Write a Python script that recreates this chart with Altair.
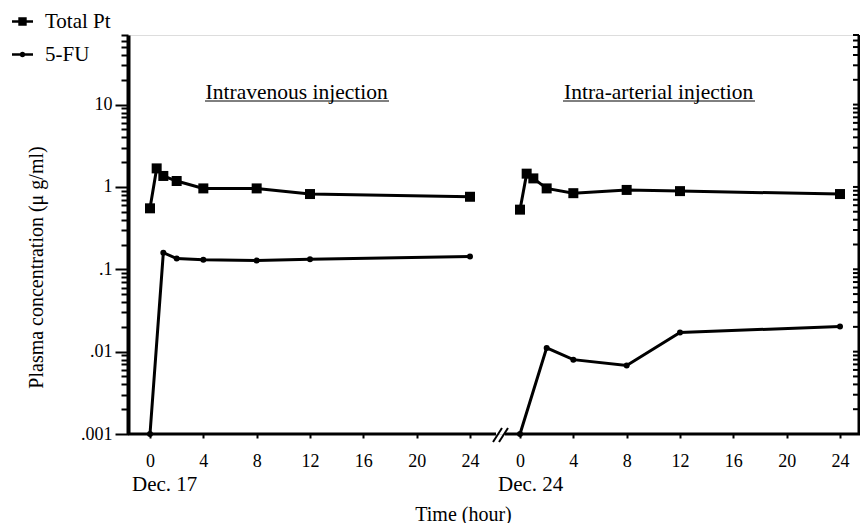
import altair as alt
import pandas as pd

# ---------------- data ----------------
iv_pt_t = [0, 0.5, 1, 2, 4, 8, 12, 24]
iv_pt_v = [0.55, 1.68, 1.36, 1.18, 0.96, 0.96, 0.82, 0.76]
iv_fu_t = [0, 1, 2, 4, 8, 12, 24]
iv_fu_v = [0.001, 0.159, 0.135, 0.131, 0.128, 0.132, 0.143]
ia_pt_t = [0, 0.5, 1, 2, 4, 8, 12, 24]
ia_pt_v = [0.53, 1.45, 1.27, 0.96, 0.84, 0.92, 0.89, 0.82]
ia_fu_t = [0, 2, 4, 8, 12, 24]
ia_fu_v = [0.001, 0.0111, 0.0080, 0.0068, 0.0171, 0.0202]

series_names = ["Total Pt", "5-FU"]
panel_titles = ["Intravenous injection", "Intra-arterial injection"]
day_labels = ["Dec. 17", "Dec. 24"]
x_tick_hours = [0, 4, 8, 12, 16, 20, 24]
GAP = 27.75  # offset of the second (broken-axis) panel, in hours

rows = []
for route, off, sets in [
    ("IV", 0.0, [("Total Pt", iv_pt_t, iv_pt_v), ("5-FU", iv_fu_t, iv_fu_v)]),
    ("IA", GAP, [("Total Pt", ia_pt_t, ia_pt_v), ("5-FU", ia_fu_t, ia_fu_v)]),
]:
    for s, ts, vs in sets:
        for t, v in zip(ts, vs):
            rows.append({"t": t, "x": t + off, "v": v, "series": s,
                         "key": route + "-" + s})
df = pd.DataFrame(rows)

x_ticks = x_tick_hours + [h + GAP for h in x_tick_hours]
y_ticks = []
for d in range(-3, 2):
    for k in range(1, 10):
        val = round(k * 10.0 ** d, 6)
        if val <= 70:
            y_ticks.append(val)

FONT = "Liberation Serif"
DECADE = "abs(log(datum.value)/LN10 - round(log(datum.value)/LN10)) < 0.0001"
W, H = 731, 399

xscale = alt.Scale(domain=[-1.65, 53.175], nice=False, zero=False)
yscale = alt.Scale(type="log", domain=[0.001, 70], nice=False)

x_enc = alt.X("x:Q", scale=xscale, axis=alt.Axis(
    values=x_ticks,
    labelExpr=f"datum.value > 26 ? format(datum.value - {GAP}, 'd') : format(datum.value, 'd')",
    domain=False, tickSize=4, tickWidth=2, tickColor="black",
    labelFont=FONT, labelFontSize=18, labelColor="black", labelPadding=14,
    labelOverlap=False, labelFlush=False, grid=False,
    title="Time (hour)", titleFont=FONT, titleFontSize=20, titleFontWeight="normal",
    titleColor="black", titleX=335, titleY=80, titleBaseline="middle"))

y_enc = alt.Y("v:Q", scale=yscale, axis=alt.Axis(
    values=y_ticks,
    labelExpr=f"{DECADE} ? replace(format(datum.value, '~g'), '0.', '.') : ''",
    tickSize={"condition": {"test": DECADE, "value": 13}, "value": 7},
    tickWidth=2, tickColor="black", domainWidth=4, domainColor="black",
    labelFont=FONT, labelFontSize=18, labelColor="black", labelPadding=3,
    labelOverlap=False, labelFlush=False, grid=False,
    title="Plasma concentration (\u03bc g/ml)", titleFont=FONT, titleFontSize=20,
    titleFontWeight="normal", titleColor="black", titleX=-92, titleY=232,
    titleBaseline="middle"))

x_plain = alt.X("x:Q", scale=xscale)
y_plain = alt.Y("v:Q", scale=yscale)

base = alt.Chart(df)

lines = base.mark_line(color="black", strokeWidth=3).encode(
    x=x_enc, y=y_enc, detail="key:N", order="t:Q")
squares = base.transform_filter(alt.datum.series == "Total Pt").mark_point(
    shape="square", filled=True, size=100, color="black", opacity=1).encode(
    x=x_plain, y=y_plain)
circles = base.transform_filter(alt.datum.series == "5-FU").mark_point(
    shape="circle", filled=True, size=36, color="black", opacity=1).encode(
    x=x_plain, y=y_plain)

# legend (line + marker symbols, drawn as filled outlines)
sq_path = "M-1,-0.12H-0.4V-0.4H0.4V-0.12H1V0.12H0.4V0.4H-0.4V0.12H-1Z"
ci_path = ("M-1,-0.12H1V0.12H-1Z"
           "M-0.27,0A0.27,0.27 0 1,1 0.27,0A0.27,0.27 0 1,1 -0.27,0Z")
legend_layer = alt.Chart(pd.DataFrame({"series": series_names})).mark_point(
    filled=True, color="black", size=441, opacity=0).encode(
    shape=alt.Shape("series:N", sort=series_names,
                    scale=alt.Scale(domain=series_names, range=[sq_path, ci_path]),
                    legend=alt.Legend(orient="none", legendX=-116, legendY=-24,
                                      title=None, labelFont=FONT, labelFontSize=21,
                                      labelColor="black", symbolSize=441,
                                      symbolFillColor="black", symbolStrokeWidth=0,
                                      symbolOpacity=1,
                                      rowPadding=11, labelOffset=12, padding=0)))

# right frame ticks (pointing inward), drawn on the same log scale
right_ticks = alt.Chart(pd.DataFrame({"v": y_ticks})).mark_rule(
    color="black", strokeWidth=2).encode(
    y=y_plain, x=alt.value(W - 6), x2=alt.value(W))

one = pd.DataFrame({"a": [0]})
# broken x axis line, right frame line and break marks
axis_left = alt.Chart(one).mark_rule(color="black", strokeWidth=3).encode(
    x=alt.value(0), x2=alt.value(368), y=alt.value(H))
axis_right = alt.Chart(one).mark_rule(color="black", strokeWidth=3).encode(
    x=alt.value(377), x2=alt.value(W + 1), y=alt.value(H))
frame_right = alt.Chart(one).mark_rule(color="black", strokeWidth=3).encode(
    x=alt.value(W), y=alt.value(0), y2=alt.value(H + 1))
brk1 = alt.Chart(one).mark_rule(color="black", strokeWidth=2).encode(
    x=alt.value(365), x2=alt.value(374), y=alt.value(H + 8), y2=alt.value(H - 6))
brk2 = alt.Chart(one).mark_rule(color="black", strokeWidth=2).encode(
    x=alt.value(371), x2=alt.value(380), y=alt.value(H + 8), y2=alt.value(H - 6))

# panel titles with underline
t1 = alt.Chart(one).mark_text(font=FONT, fontSize=21.5, color="black", baseline="middle").encode(
    x=alt.datum(11.0), y=alt.value(58), text=alt.value(panel_titles[0]))
t2 = alt.Chart(one).mark_text(font=FONT, fontSize=21.5, color="black", baseline="middle").encode(
    x=alt.datum(10.4 + GAP), y=alt.value(58), text=alt.value(panel_titles[1]))
u1 = alt.Chart(one).mark_rule(color="black", strokeWidth=1).encode(
    x=alt.value(77), x2=alt.value(261), y=alt.value(66))
u2 = alt.Chart(one).mark_rule(color="black", strokeWidth=1).encode(
    x=alt.value(435), x2=alt.value(627), y=alt.value(66))

# day labels under the axis
d1 = alt.Chart(one).mark_text(font=FONT, fontSize=21, color="black", align="left",
                              baseline="middle").encode(
    x=alt.datum(-1.35), y=alt.value(450), text=alt.value(day_labels[0]))
d2 = alt.Chart(one).mark_text(font=FONT, fontSize=21, color="black", align="left",
                              baseline="middle").encode(
    x=alt.datum(-1.65 + GAP), y=alt.value(450), text=alt.value(day_labels[1]))

chart = alt.layer(lines, squares, circles, legend_layer, right_ticks, axis_left,
                  axis_right, frame_right, brk1, brk2, t1, t2, u1, u2, d1, d2
                  ).properties(
    width=W, height=H,
    autosize=alt.AutoSizeParams(type="none"),
    padding={"left": 120, "top": 27, "right": 1, "bottom": 89},
).configure_view(stroke=None).configure(background="white")

chart.save("out.html", embed_options={"renderer": "svg", "actions": False})
